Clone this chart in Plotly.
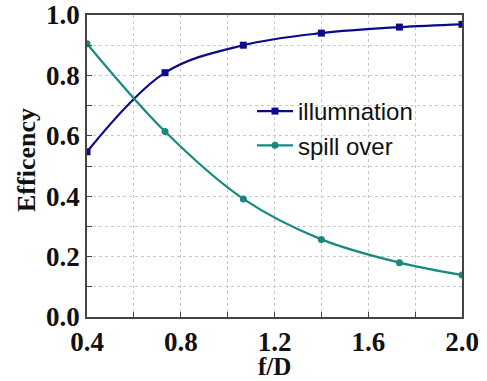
import plotly.graph_objects as go

# f/D ratio samples
f_over_d = [0.4, 0.733, 1.067, 1.4, 1.733, 2.0]
illumination = [0.547, 0.809, 0.900, 0.940, 0.960, 0.969]
spill_over = [0.905, 0.614, 0.391, 0.257, 0.180, 0.139]

x_ticks = [0.4, 0.8, 1.2, 1.6, 2.0]
y_ticks = [0.0, 0.2, 0.4, 0.6, 0.8, 1.0]

navy = "#0b0b8a"
teal = "#178a80"

W, H = 487, 381
ML, MR, MT, MB = 87, 25, 15, 64

fig = go.Figure()
fig.add_trace(go.Scatter(
    x=f_over_d, y=illumination, name="illumnation",
    mode="lines+markers", line=dict(color=navy, width=2.2, shape="spline"),
    marker=dict(symbol="square", size=7, color=navy),
))
fig.add_trace(go.Scatter(
    x=f_over_d, y=spill_over, name="spill over",
    mode="lines+markers", line=dict(color=teal, width=2.2, shape="spline"),
    marker=dict(symbol="circle", size=7, color=teal),
))

tick_font = dict(family="Liberation Serif", size=27, color="#111111")
title_font = dict(family="Liberation Serif", size=26, color="#111111")
grid_common = dict(
    showgrid=True, gridcolor="#c8c8c8", griddash="dot", gridwidth=1,
    showline=True, linecolor="#444444", linewidth=1.5, mirror=True,
    ticks="inside", ticklen=5, tickcolor="#444444", zeroline=False,
    tickfont=tick_font, automargin=False, ticklabeloverflow="allow",
)

fig.update_xaxes(
    range=[0.4, 2.0], tickvals=x_ticks,
    ticktext=[f"<b>{v:.1f}</b>" for v in x_ticks],
    minor=dict(dtick=0.2, tick0=0.4, showgrid=True, gridcolor="#c8c8c8",
               griddash="dot", ticks="inside", ticklen=5, tickcolor="#444444"),
    **grid_common,
)
fig.update_yaxes(
    range=[0.0, 1.0], tickvals=y_ticks,
    ticktext=[f"<b>{v:.1f}</b>" for v in y_ticks],
    minor=dict(dtick=0.1, tick0=0.0, showgrid=True, gridcolor="#c8c8c8",
               griddash="dot", ticks="inside", ticklen=5, tickcolor="#444444"),
    **grid_common,
)

# axis titles placed as paper-referenced annotations
plot_w = W - ML - MR
plot_h = H - MT - MB
fig.add_annotation(
    text="<b>f/D</b>", font=dict(title_font, size=25), showarrow=False,
    xref="paper", yref="paper",
    x=(274 - ML) / plot_w, y=-(366 - (H - MB)) / plot_h,
    xanchor="center", yanchor="middle", borderpad=0,
)
fig.add_annotation(
    text="<b>Efficency</b>", font=title_font, showarrow=False, textangle=-90,
    xref="paper", yref="paper",
    x=-(ML - 26) / plot_w, y=((H - MB) - 160) / plot_h,
    xanchor="center", yanchor="middle", borderpad=0,
)

fig.update_layout(
    width=W, height=H,
    margin=dict(l=ML, r=MR, t=MT, b=MB),
    paper_bgcolor="white", plot_bgcolor="white",
    showlegend=True,
    legend=dict(
        x=0.44, y=0.755, xanchor="left", yanchor="top",
        bgcolor="rgba(0,0,0,0)",
        font=dict(family="Liberation Sans", size=24, color="#111111"),
        itemwidth=36, tracegroupgap=0,
    ),
)

fig.write_html("out.html")
